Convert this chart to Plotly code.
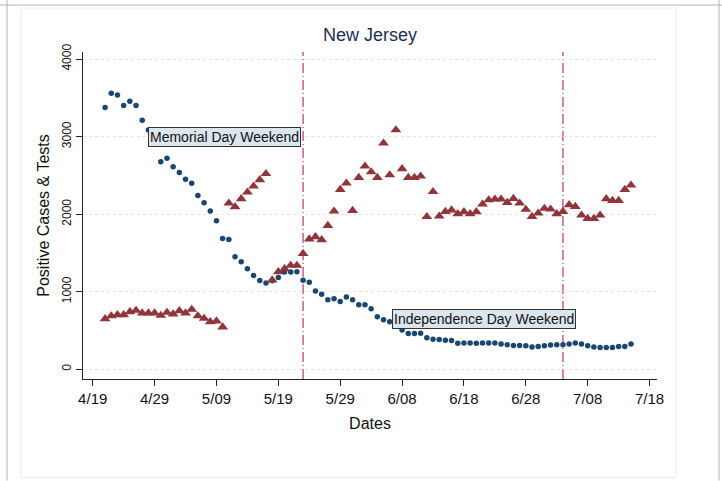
import pandas as pd
import plotly.graph_objects as go

# ---------------- data ----------------
start_date = "2020-04-21"
end_date = "2020-07-15"
dates = pd.date_range(start_date, end_date, freq="D")

positive_cases = [
    # April 21-30
    3374, 3559, 3537, 3400, 3456, 3400, 3211, 3086, 2950, 2676,
    # May
    2722, 2610, 2536, 2451, 2397, 2240, 2146, 2042, 1914, 1686,
    1673, 1450, 1385, 1295, 1209, 1144, 1113, 1140, 1183, 1254,
    1254, 1258, 1147, 1121, 1008, 968, 895, 908, 874, 930, 896,
    # June
    831, 831, 780, 677, 638, 612, 575, 505, 461, 461,
    465, 405, 386, 382, 374, 370, 335, 337, 337, 335,
    337, 337, 337, 325, 316, 307, 307, 303, 286, 294,
    # July 1-15
    303, 311, 316, 316, 325, 337, 325, 303, 286, 281,
    281, 281, 294, 294, 325,
]

tests = [
    # April 21-30
    650, 688, 702, 702, 741, 758, 724, 724, 724, 693,
    # May
    732, 711, 754, 724, 771, 688, 655, 612, 621, 544,
    2142, 2094, 2197, 2283, 2361, 2442, 2521, 1150, 1256, 1295,
    1338, 1338, 1492, 1678, 1708, 1669, 1853, 2038, 2317, 2399, 2046,
    # June
    2472, 2619, 2545, 2472, 2915, 2506, 3086, 2584, 2472, 2472,
    2490, 1967, 2289, 1973, 2034, 2053, 2004, 2030, 2004, 2030,
    2129, 2184, 2193, 2193, 2150, 2201, 2142, 2060, 1969, 2013,
    # July 1-15
    2073, 2064, 2004, 2034, 2120, 2098, 1987, 1943, 1943, 1987,
    2197, 2175, 2175, 2317, 2374,
]

tick_dates = ["2020-04-19", "2020-04-29", "2020-05-09", "2020-05-19", "2020-05-29",
              "2020-06-08", "2020-06-18", "2020-06-28", "2020-07-08", "2020-07-18"]
tick_labels = ["4/19", "4/29", "5/09", "5/19", "5/29", "6/08", "6/18", "6/28", "7/08", "7/18"]
y_ticks = [0, 1000, 2000, 3000, 4000]

event_dates = ["2020-05-23", "2020-07-04"]
event_labels = ["Memorial Day Weekend", "Independence Day Weekend"]
label_x = ["2020-04-28", "2020-06-06 08:00"]
label_y = [3000, 650]

# ---------------- figure ----------------
FONT = "Liberation Sans, Arial, sans-serif"
BLUE = "#1a476f"
RED = "#90353b"
PINK = "#c8417a"

fig = go.Figure()
fig.add_trace(go.Scatter(
    x=dates, y=positive_cases, mode="markers", name="Positive Cases",
    marker=dict(symbol="circle", size=5.5, color=BLUE, line=dict(width=0)),
))
fig.add_trace(go.Scatter(
    x=dates, y=tests, mode="markers", name="Tests",
    marker=dict(symbol="triangle-up", size=9.5, color=RED, line=dict(width=0)),
))

base = pd.Timestamp("2020-04-19")
x_range = [base - pd.Timedelta(days=1.57), base + pd.Timedelta(days=91.2)]

shapes = []
for d in event_dates:
    shapes.append(dict(type="line", xref="x", yref="paper", x0=d, x1=d, y0=0, y1=1,
                       line=dict(color=PINK, width=1.3, dash="10px,3px,1px,3px"), layer="below"))

# page frame (screenshot borders), in paper coordinates of the plot area
L, R, T, B = 83, 657, 52, 379.3
W, H = R - L, B - T
def px(X):
    return (X - L) / W
def py(Y):
    return (B - Y) / H

shapes += [
    dict(type="rect", xref="paper", yref="paper", x0=px(21), x1=px(676), y0=py(478), y1=py(8),
         line=dict(color="#e6ecf0", width=1), fillcolor="rgba(0,0,0,0)", layer="below"),
    dict(type="line", xref="paper", yref="paper", x0=px(0), x1=px(722), y0=py(5), y1=py(5),
         line=dict(color="#b4b4b4", width=1)),
    dict(type="line", xref="paper", yref="paper", x0=px(7), x1=px(7), y0=py(0), y1=py(481),
         line=dict(color="#b4b4b4", width=1)),
    dict(type="line", xref="paper", yref="paper", x0=px(719), x1=px(719), y0=py(0), y1=py(481),
         line=dict(color="#b4b4b4", width=1)),
]

annotations = []
for lx, ly, txt in zip(label_x, label_y, event_labels):
    annotations.append(dict(
        x=lx, y=ly, xref="x", yref="y", text=txt, showarrow=False,
        xanchor="left", yanchor="middle",
        font=dict(family=FONT, size=14, color="#111111"),
        bgcolor="#dce6ee", bordercolor="#333333", borderwidth=1, borderpad=1,
    ))

fig.update_layout(
    width=722, height=481,
    margin=dict(l=L, r=722 - R, t=T, b=481 - B, autoexpand=False),
    paper_bgcolor="white", plot_bgcolor="white",
    showlegend=False,
    title=dict(text="New Jersey", x=370 / 722, xanchor="center",
               y=1 - 35 / 481, yanchor="middle",
               font=dict(family=FONT, size=18, color="#1e2d4f")),
    font=dict(family=FONT, color="#111111"),
    shapes=shapes,
    annotations=annotations,
)

fig.update_xaxes(
    range=x_range, type="date", automargin=False,
    tickmode="array", tickvals=tick_dates, ticktext=tick_labels,
    tickfont=dict(size=15, color="#111111"),
    ticks="outside", ticklen=6, tickwidth=1, tickcolor="#222222",
    showline=True, linecolor="#222222", linewidth=1,
    showgrid=False, zeroline=False,
    title=dict(text="Dates", font=dict(size=16, color="#111111"), standoff=11),
)
fig.update_yaxes(
    range=[-126, 4091], automargin=False,
    tickmode="array", tickvals=y_ticks, ticktext=[str(v) for v in y_ticks],
    tickangle=-90,
    tickfont=dict(size=12, color="#111111"),
    ticks="outside", ticklen=6, tickwidth=1, tickcolor="#222222",
    showline=True, linecolor="#222222", linewidth=1,
    showgrid=True, gridcolor="#e2e6ea", griddash="dot", gridwidth=1,
    zeroline=False,
    title=dict(text="Positive Cases & Tests", font=dict(size=16, color="#111111"), standoff=6),
)

fig.write_html("out.html",
               config={"displayModeBar": False},
               post_script="document.body.style.margin='0';document.body.style.overflow='hidden';")
